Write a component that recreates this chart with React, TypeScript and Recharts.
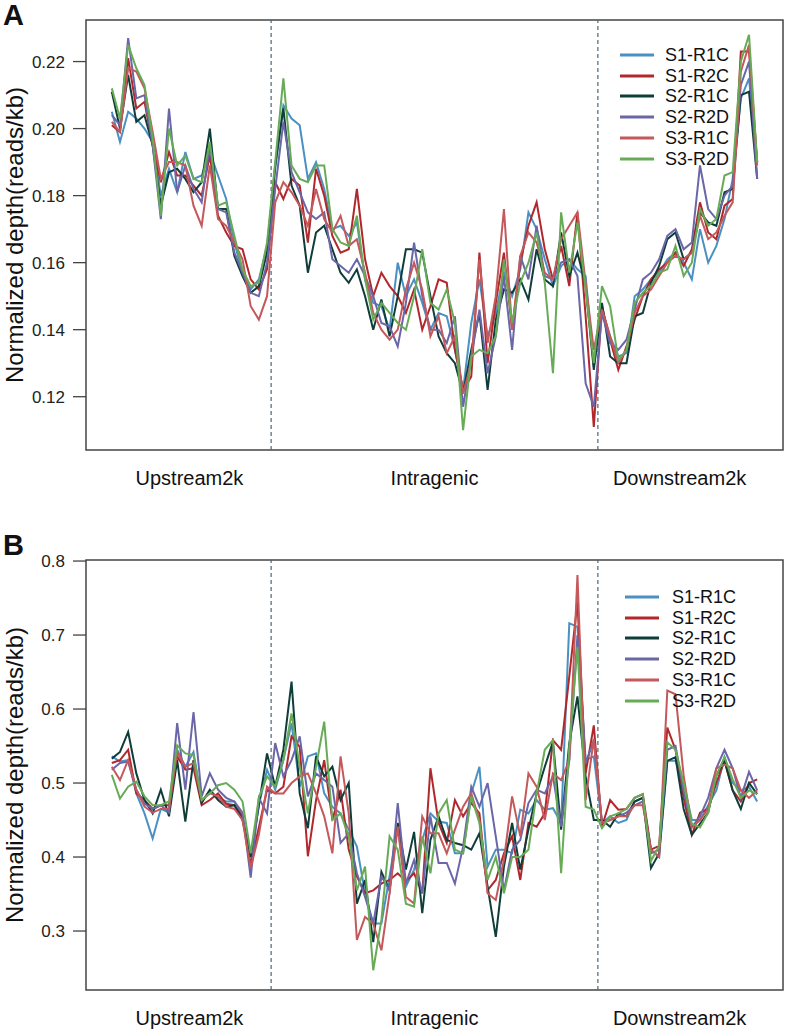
import React from "react";
import { LineChart, Line, XAxis, YAxis, ReferenceLine, ReferenceArea } from "recharts";

const FONT = '"Liberation Sans", Arial, Helvetica, sans-serif';

const SERIES = ["S1-R1C", "S1-R2C", "S2-R1C", "S2-R2D", "S3-R1C", "S3-R2D"];
const COLORS = ["#4b90c2", "#b0282c", "#0f3d3a", "#6a66a8", "#c4585a", "#67ab56"];
const REGIONS = ["Upstream2k", "Intragenic", "Downstream2k"];
const REGION_TICKS = [10.5, 40.5, 70.5];
const BOUNDARIES = [20.5, 60.5];
const X_DOMAIN: [number, number] = [-2.16, 83.16];
const BINS = Array.from({ length: 80 }, (_, k) => k + 1);

// panel A
const A_TICKS = [0.12, 0.14, 0.16, 0.18, 0.2, 0.22];
const A_S1R1C = [0.205,0.196,0.205,0.203,0.200,0.196,0.180,0.188,0.181,0.193,0.185,0.186,0.193,0.186,0.179,0.166,0.157,0.152,0.155,0.165, 0.188,0.207,0.203,0.201,0.185,0.190,0.182,0.170,0.171,0.168,0.172,0.155,0.148,0.147,0.140,0.160,0.150,0.155,0.148,0.140, 0.145,0.144,0.134,0.122,0.142,0.155,0.138,0.145,0.157,0.150,0.158,0.175,0.170,0.161,0.153,0.159,0.161,0.158,0.156,0.129, 0.146,0.138,0.132,0.133,0.150,0.152,0.155,0.157,0.161,0.163,0.160,0.155,0.170,0.160,0.165,0.173,0.185,0.209,0.215,0.190];
const A_S1R2C = [0.201,0.199,0.221,0.206,0.208,0.195,0.184,0.193,0.186,0.186,0.183,0.180,0.192,0.174,0.169,0.165,0.164,0.155,0.152,0.158, 0.184,0.179,0.185,0.183,0.166,0.188,0.180,0.168,0.163,0.164,0.182,0.161,0.150,0.157,0.153,0.150,0.145,0.152,0.140,0.147, 0.155,0.154,0.134,0.122,0.126,0.163,0.130,0.148,0.163,0.140,0.160,0.171,0.178,0.164,0.155,0.165,0.153,0.175,0.144,0.111, 0.147,0.137,0.128,0.135,0.143,0.150,0.155,0.158,0.160,0.163,0.159,0.164,0.178,0.169,0.167,0.177,0.179,0.223,0.223,0.190];
const A_S2R1C = [0.211,0.200,0.216,0.202,0.204,0.195,0.177,0.187,0.188,0.185,0.181,0.184,0.200,0.176,0.176,0.162,0.156,0.151,0.153,0.163, 0.189,0.206,0.183,0.177,0.157,0.169,0.171,0.164,0.157,0.154,0.158,0.150,0.140,0.149,0.138,0.150,0.164,0.164,0.163,0.150, 0.138,0.133,0.130,0.121,0.134,0.145,0.122,0.143,0.152,0.151,0.155,0.149,0.164,0.155,0.153,0.169,0.156,0.163,0.153,0.128, 0.148,0.132,0.130,0.130,0.144,0.145,0.154,0.159,0.167,0.169,0.161,0.163,0.175,0.172,0.171,0.181,0.182,0.210,0.211,0.185];
const A_S2R2D = [0.204,0.201,0.227,0.209,0.210,0.195,0.173,0.206,0.181,0.189,0.182,0.178,0.195,0.176,0.175,0.163,0.157,0.151,0.150,0.160, 0.182,0.202,0.187,0.181,0.175,0.173,0.175,0.161,0.159,0.157,0.161,0.156,0.150,0.142,0.141,0.135,0.148,0.166,0.150,0.140, 0.140,0.136,0.144,0.117,0.132,0.146,0.127,0.138,0.156,0.134,0.162,0.155,0.171,0.156,0.155,0.160,0.161,0.156,0.124,0.117, 0.145,0.136,0.134,0.137,0.146,0.155,0.157,0.161,0.168,0.170,0.164,0.166,0.189,0.176,0.173,0.180,0.183,0.213,0.220,0.185];
const A_S3R1C = [0.202,0.199,0.218,0.217,0.212,0.199,0.185,0.190,0.190,0.189,0.177,0.171,0.189,0.173,0.171,0.166,0.161,0.147,0.143,0.150, 0.178,0.184,0.181,0.177,0.171,0.182,0.173,0.169,0.174,0.165,0.167,0.157,0.145,0.140,0.137,0.140,0.152,0.160,0.152,0.138, 0.144,0.133,0.138,0.121,0.130,0.161,0.136,0.150,0.176,0.140,0.162,0.169,0.166,0.157,0.155,0.167,0.171,0.175,0.154,0.134, 0.146,0.138,0.130,0.134,0.145,0.150,0.152,0.156,0.160,0.162,0.161,0.163,0.174,0.167,0.169,0.174,0.178,0.217,0.225,0.189];
const A_S3R2D = [0.212,0.203,0.225,0.218,0.213,0.197,0.174,0.200,0.189,0.192,0.185,0.184,0.196,0.177,0.178,0.168,0.158,0.153,0.154,0.166, 0.190,0.215,0.189,0.185,0.184,0.189,0.189,0.170,0.166,0.165,0.174,0.155,0.143,0.148,0.145,0.142,0.140,0.150,0.164,0.148, 0.146,0.152,0.142,0.110,0.132,0.134,0.133,0.138,0.161,0.142,0.154,0.160,0.169,0.154,0.127,0.175,0.157,0.172,0.152,0.130, 0.153,0.147,0.131,0.134,0.148,0.151,0.153,0.157,0.158,0.165,0.156,0.160,0.176,0.171,0.173,0.186,0.187,0.220,0.228,0.190];

// panel B
const B_TICKS = [0.3, 0.4, 0.5, 0.6, 0.7, 0.8];
const B_S1R1C = [0.536,0.529,0.531,0.486,0.459,0.425,0.465,0.460,0.545,0.522,0.542,0.475,0.490,0.480,0.475,0.475,0.455,0.400,0.470,0.518, 0.491,0.531,0.581,0.495,0.536,0.540,0.486,0.468,0.459,0.437,0.414,0.351,0.310,0.310,0.374,0.441,0.360,0.383,0.423,0.459, 0.448,0.446,0.405,0.405,0.486,0.522,0.387,0.410,0.410,0.405,0.464,0.459,0.477,0.464,0.466,0.446,0.716,0.711,0.531,0.536, 0.446,0.455,0.446,0.450,0.475,0.480,0.410,0.400,0.530,0.530,0.500,0.450,0.450,0.470,0.490,0.535,0.500,0.490,0.495,0.475];
const B_S1R2C = [0.527,0.531,0.545,0.486,0.477,0.465,0.470,0.470,0.536,0.518,0.520,0.470,0.477,0.486,0.472,0.470,0.455,0.390,0.440,0.491, 0.486,0.495,0.563,0.549,0.401,0.477,0.531,0.450,0.491,0.410,0.374,0.351,0.355,0.364,0.369,0.378,0.367,0.378,0.351,0.520, 0.446,0.419,0.477,0.455,0.473,0.459,0.355,0.369,0.405,0.428,0.369,0.446,0.441,0.459,0.558,0.545,0.644,0.745,0.513,0.578, 0.441,0.477,0.464,0.465,0.480,0.485,0.410,0.415,0.575,0.545,0.480,0.430,0.460,0.465,0.500,0.530,0.490,0.475,0.500,0.505];
const B_S2R1C = [0.533,0.542,0.569,0.513,0.477,0.459,0.491,0.455,0.531,0.448,0.531,0.473,0.491,0.477,0.468,0.470,0.450,0.400,0.470,0.540, 0.495,0.545,0.637,0.486,0.439,0.536,0.509,0.522,0.477,0.500,0.337,0.369,0.285,0.380,0.355,0.446,0.383,0.434,0.324,0.423, 0.455,0.423,0.419,0.416,0.410,0.432,0.360,0.292,0.387,0.446,0.383,0.437,0.486,0.522,0.556,0.437,0.554,0.617,0.509,0.450, 0.450,0.441,0.459,0.455,0.475,0.480,0.385,0.405,0.530,0.535,0.465,0.430,0.445,0.460,0.510,0.530,0.490,0.465,0.500,0.485];
const B_S2R2D = [0.518,0.527,0.529,0.491,0.472,0.465,0.470,0.460,0.581,0.491,0.596,0.482,0.513,0.491,0.480,0.475,0.460,0.372,0.480,0.459, 0.554,0.509,0.531,0.563,0.482,0.513,0.504,0.495,0.419,0.432,0.378,0.346,0.310,0.374,0.355,0.473,0.364,0.396,0.351,0.455, 0.392,0.392,0.364,0.414,0.495,0.468,0.500,0.428,0.355,0.410,0.423,0.473,0.491,0.486,0.509,0.441,0.531,0.700,0.527,0.558, 0.446,0.450,0.455,0.460,0.470,0.475,0.405,0.410,0.545,0.550,0.490,0.440,0.455,0.480,0.520,0.545,0.520,0.480,0.515,0.490];
const B_S3R1C = [0.522,0.504,0.531,0.491,0.468,0.460,0.465,0.465,0.542,0.522,0.527,0.477,0.486,0.482,0.468,0.465,0.450,0.385,0.430,0.495, 0.486,0.486,0.500,0.509,0.513,0.486,0.455,0.405,0.536,0.459,0.288,0.319,0.310,0.274,0.351,0.441,0.346,0.337,0.455,0.432, 0.432,0.405,0.437,0.468,0.486,0.450,0.351,0.342,0.396,0.482,0.428,0.513,0.495,0.450,0.513,0.504,0.531,0.781,0.477,0.560, 0.446,0.450,0.455,0.455,0.470,0.470,0.410,0.400,0.625,0.620,0.510,0.440,0.450,0.465,0.520,0.525,0.520,0.490,0.480,0.490];
const B_S3R2D = [0.511,0.479,0.495,0.502,0.482,0.470,0.470,0.475,0.551,0.540,0.538,0.477,0.486,0.497,0.500,0.491,0.475,0.405,0.480,0.509, 0.495,0.531,0.594,0.522,0.459,0.522,0.583,0.450,0.459,0.428,0.355,0.387,0.247,0.315,0.428,0.410,0.337,0.333,0.428,0.378, 0.459,0.477,0.410,0.405,0.482,0.446,0.369,0.400,0.351,0.400,0.400,0.410,0.486,0.545,0.558,0.378,0.549,0.684,0.468,0.464, 0.439,0.455,0.459,0.465,0.480,0.485,0.395,0.415,0.555,0.545,0.500,0.445,0.440,0.460,0.510,0.535,0.505,0.480,0.490,0.485];

function buildRows(cols: number[][]) {
  return BINS.map((bin, k) => {
    const row: Record<string, number> = { bin };
    SERIES.forEach((s, j) => {
      row[s] = cols[j][k];
    });
    return row;
  });
}

const A_ROWS = buildRows([A_S1R1C, A_S1R2C, A_S2R1C, A_S2R2D, A_S3R1C, A_S3R2D]);
const B_ROWS = buildRows([B_S1R1C, B_S1R2C, B_S2R1C, B_S2R2D, B_S3R1C, B_S3R2D]);

type PanelProps = {
  letter: string;
  top: number;
  height: number;
  rows: Record<string, number>[];
  domain: [number, number];
  ticks: number[];
  digits: number;
  xAxisHeight: number;
  marginBottom: number;
  letterTop: number;
  titleY: number;
  legendLine: number;
  legendText: number;
  legendY: number;
};

function Panel(p: PanelProps) {
  return (
    <>
      <div style={{ position: "absolute", left: 0, top: p.top }}>
        <LineChart
          width={787}
          height={p.height}
          data={p.rows}
          margin={{ top: 20, right: 4, bottom: p.marginBottom, left: 0 }}
        >
          <XAxis
            dataKey="bin"
            type="number"
            domain={X_DOMAIN}
            allowDataOverflow
            ticks={REGION_TICKS}
            interval={0}
            tickFormatter={(v) => REGIONS[REGION_TICKS.indexOf(v)] ?? ""}
            axisLine={false}
            tickLine={false}
            tickSize={6}
            tickMargin={15}
            height={p.xAxisHeight}
            tick={{ fontSize: 20, fill: "#111", fontFamily: FONT }}
          />
          <YAxis
            type="number"
            domain={p.domain}
            allowDataOverflow
            ticks={p.ticks}
            interval={0}
            tickFormatter={(v) => Number(v).toFixed(p.digits)}
            width={86}
            axisLine={false}
            tickLine={{ stroke: "#444", strokeWidth: 1.3 }}
            tickSize={13}
            tickMargin={8}
            tick={{ fontSize: 17, fill: "#222", fontFamily: FONT }}
          />
          <ReferenceArea
            x1={X_DOMAIN[0]}
            x2={X_DOMAIN[1]}
            y1={p.domain[0]}
            y2={p.domain[1]}
            fill="none"
            stroke="#444"
            strokeWidth={1.5}
            ifOverflow="visible"
          />
          {BOUNDARIES.map((b) => (
            <ReferenceLine key={b} x={b} stroke="#4f6572" strokeDasharray="4 3" strokeWidth={1.2} />
          ))}
          {SERIES.map((s, j) => (
            <Line
              key={s}
              type="linear"
              dataKey={s}
              stroke={COLORS[j]}
              strokeWidth={2}
              dot={false}
              activeDot={false}
              isAnimationActive={false}
            />
          ))}
        </LineChart>
      </div>
      <div
        style={{
          position: "absolute",
          left: 3,
          top: p.letterTop,
          fontFamily: FONT,
          fontWeight: "bold",
          fontSize: 29,
          lineHeight: 1,
          color: "#111",
        }}
      >
        {p.letter}
      </div>
      <div
        style={{
          position: "absolute",
          left: 15,
          top: p.titleY,
          transform: "translate(-50%, -50%) rotate(-90deg)",
          fontFamily: FONT,
          fontSize: 24,
          lineHeight: 1,
          whiteSpace: "nowrap",
          color: "#111",
        }}
      >
        Normalized depth(reads/kb)
      </div>
      {SERIES.map((s, j) => (
        <div
          key={s}
          style={{
            position: "absolute",
            left: p.legendLine,
            top: p.legendY + j * 20.7 - 10,
            height: 20,
            display: "flex",
            alignItems: "center",
            fontFamily: FONT,
            fontSize: 18,
            color: "#111",
          }}
        >
          <svg width={34} height={4} style={{ display: "block" }}>
            <line x1={0} y1={2} x2={34} y2={2} stroke={COLORS[j]} strokeWidth={3} />
          </svg>
          <span style={{ marginLeft: p.legendText - p.legendLine - 34, lineHeight: 1 }}>{s}</span>
        </div>
      ))}
    </>
  );
}

export default function App() {
  return (
    <div
      style={{
        position: "absolute",
        left: 0,
        top: 0,
        width: 787,
        height: 1032,
        background: "#fff",
        overflow: "hidden",
      }}
    >
      <Panel
        letter="A"
        top={0}
        height={500}
        rows={A_ROWS}
        domain={[0.1041, 0.2324]}
        ticks={A_TICKS}
        digits={2}
        xAxisHeight={40}
        marginBottom={10}
        letterTop={1}
        titleY={235}
        legendLine={620}
        legendText={665}
        legendY={55}
      />
      <Panel
        letter="B"
        top={540}
        height={492}
        rows={B_ROWS}
        domain={[0.2203, 0.8014]}
        ticks={B_TICKS}
        digits={1}
        xAxisHeight={34}
        marginBottom={8}
        letterTop={531}
        titleY={775}
        legendLine={625}
        legendText={672}
        legendY={597}
      />
    </div>
  );
}
